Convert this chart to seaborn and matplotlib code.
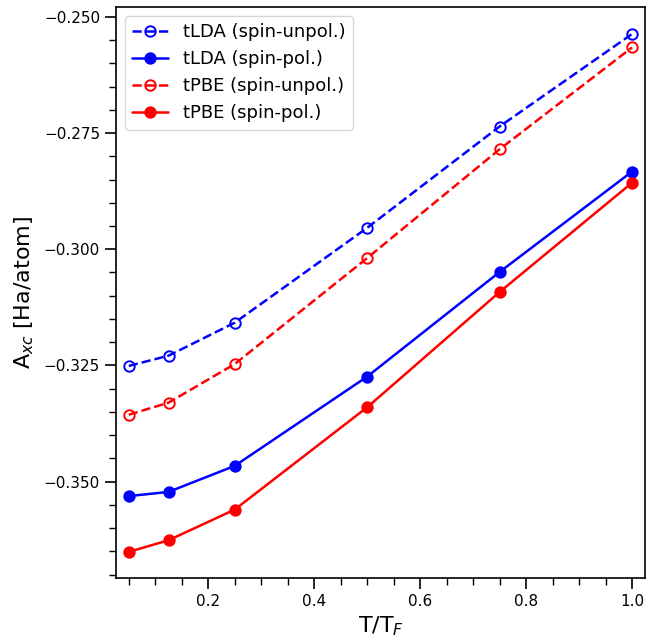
import numpy as np
import pandas as pd
import matplotlib
matplotlib.use("Agg")
import matplotlib.pyplot as plt
import seaborn as sns
from matplotlib.ticker import MultipleLocator, FuncFormatter

# Data
T = [0.05, 0.125, 0.25, 0.5, 0.75, 1.0]
tlda_unpol = [-0.3251, -0.3229, -0.3158, -0.2954, -0.2736, -0.2537]
tlda_pol = [-0.3531, -0.3522, -0.3466, -0.3274, -0.3049, -0.2833]
tpbe_unpol = [-0.3356, -0.3330, -0.3247, -0.3019, -0.2785, -0.2566]
tpbe_pol = [-0.3651, -0.3626, -0.3560, -0.3340, -0.3092, -0.2857]
labels = ["tLDA (spin-unpol.)", "tLDA (spin-pol.)", "tPBE (spin-unpol.)", "tPBE (spin-pol.)"]

sns.set_style("ticks")
plt.rcParams['font.family'] = ['DejaVu Sans']
plt.rcParams['text.color'] = 'black'
plt.rcParams['axes.labelcolor'] = 'black'
plt.rcParams['xtick.color'] = 'black'
plt.rcParams['ytick.color'] = 'black'

fig = plt.figure(figsize=(6.67, 6.4), dpi=100)
ax = fig.add_axes([0.174, 0.097, 0.793, 0.892])

series = [
    (tlda_unpol, labels[0], "blue", "--", "none"),
    (tlda_pol, labels[1], "blue", "-", "blue"),
    (tpbe_unpol, labels[2], "red", "--", "none"),
    (tpbe_pol, labels[3], "red", "-", "red"),
]
for vals, lab, col, ls, mfc in series:
    df = pd.DataFrame({"T": T, "A": vals})
    sns.lineplot(data=df, x="T", y="A", ax=ax, color=col, linestyle=ls,
                 linewidth=1.8, marker="o", markersize=7.5,
                 markerfacecolor=mfc, markeredgecolor=col, markeredgewidth=1.4,
                 label=lab)

ax.set_xlim(0.026, 1.0245)
ax.set_ylim(-0.3707, -0.2479)
ax.xaxis.set_major_locator(MultipleLocator(0.2))
ax.xaxis.set_minor_locator(MultipleLocator(0.05))
ax.yaxis.set_major_locator(MultipleLocator(0.025))
ax.yaxis.set_minor_locator(MultipleLocator(0.005))
ax.tick_params(axis="both", which="major", length=8, width=1.2, labelsize=11, direction="out")
ax.tick_params(axis="both", which="minor", length=5, width=1.0, direction="out")
ax.set_xticks([0.2, 0.4, 0.6, 0.8, 1.0])
ax.set_xticklabels(["0.2", "0.4", "0.6", "0.8", "1.0"])
ax.yaxis.set_major_formatter(FuncFormatter(lambda v, p: f"{v:.3f}".replace("-", "\u2212")))
for s in ax.spines.values():
    s.set_linewidth(1.2)
    s.set_color("black")

ax.set_xlabel(r"T/T$_F$", fontsize=16)
ax.set_ylabel(r"A$_{xc}$ [Ha/atom]", fontsize=16, labelpad=6)
leg = ax.legend(loc="upper left", fontsize=13, frameon=True, handlelength=2.0)
for t in leg.get_texts():
    t.set_color("black")

fig.savefig("out.png", dpi=100)
